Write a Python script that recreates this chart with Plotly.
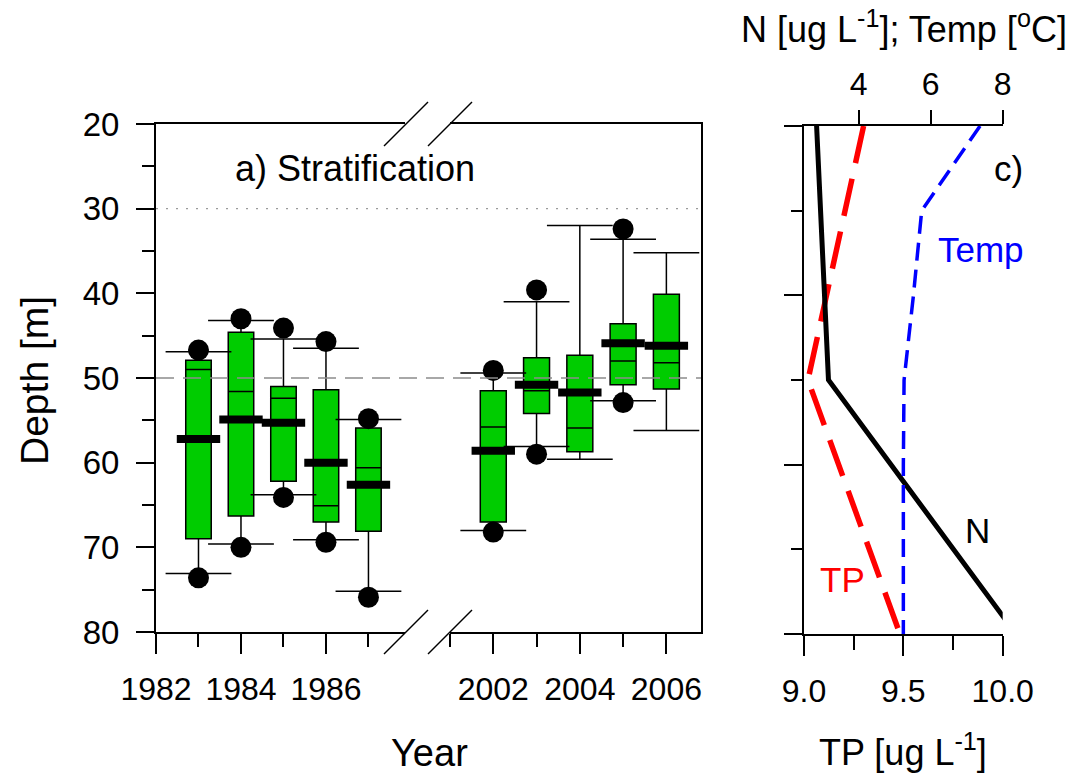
import plotly.graph_objects as go

W, H = 1072, 778
FONT = "Liberation Sans, Arial, sans-serif"

# ---------------- data: panel a) ----------------
years_early = [1983, 1984, 1985, 1986, 1987]
q1_early = [47.9, 44.6, 51.0, 51.4, 55.9]
median_early = [49.0, 51.6, 52.4, 65.1, 60.6]
q3_early = [69.0, 66.3, 62.2, 67.0, 68.1]
whisk_lo_early = [46.9, 43.2, 45.4, 46.5, 54.9]
whisk_hi_early = [73.1, 69.6, 63.8, 69.1, 75.2]
mean_early = [57.2, 54.9, 55.3, 60.0, 62.6]
out_top_early = [46.7, 43.0, 44.1, 45.7, 54.8]
out_bot_early = [73.6, 70.0, 64.1, 69.4, 75.9]

years_late = [2002, 2003, 2004, 2005, 2006]
q1_late = [51.5, 47.6, 47.3, 43.6, 40.1]
median_late = [55.8, 51.5, 55.9, 48.0, 48.2]
q3_late = [67.0, 54.2, 58.7, 50.8, 51.3]
whisk_lo_late = [49.4, 41.0, 32.0, 33.6, 35.2]
whisk_hi_late = [68.0, 58.1, 59.6, 52.7, 56.2]
mean_late = [58.6, 50.8, 51.7, 45.9, 46.2]
out_top_late = [49.1, 39.6, None, 32.4, None]
out_bot_late = [68.2, 59.0, None, 52.9, None]

ref_dotted_depth = 30
ref_dashed_depth = 50

# ---------------- data: panel c) ----------------
depth_N = [20, 50, 80]
N_vals = [2.83, 3.16, 8.37]
depth_TP = [20, 50, 80]
TP_vals = [9.30, 9.02, 9.483]
depth_T = [20, 30, 40, 50, 60, 70, 80]
T_vals = [7.37, 5.75, 5.52, 5.26, 5.24, 5.24, 5.24]

ticks_left_x = [1982, 1984, 1986]
ticks_right_x = [2002, 2004, 2006]


def px(x):
    return x / W


def py(y):
    return 1 - y / H


fig = go.Figure()

GREEN = "#00CC00"


def add_boxes(years, q1, med, q3, lo, hi, mean, otop, obot, xa, ya):
    fig.add_trace(go.Box(
        x=years, q1=q1, median=med, q3=q3, lowerfence=lo, upperfence=hi,
        width=0.6, whiskerwidth=0, boxpoints=False,
        fillcolor=GREEN, line=dict(color="black", width=1.5),
        xaxis=xa, yaxis=ya, showlegend=False, hoverinfo="skip"))
    # whisker caps
    fig.add_trace(go.Scatter(
        x=years + years, y=lo + hi, mode="markers",
        marker=dict(symbol="line-ew", size=47, color="black",
                    line=dict(color="black", width=1.5)),
        xaxis=xa, yaxis=ya, showlegend=False, hoverinfo="skip", cliponaxis=False))
    # mean (thick line)
    fig.add_trace(go.Scatter(
        x=years, y=mean, mode="markers",
        marker=dict(symbol="line-ew", size=31, color="black",
                    line=dict(color="black", width=8)),
        xaxis=xa, yaxis=ya, showlegend=False, hoverinfo="skip", cliponaxis=False))
    # outliers
    fig.add_trace(go.Scatter(
        x=years + years, y=otop + obot, mode="markers",
        marker=dict(symbol="circle", size=21, color="black"),
        xaxis=xa, yaxis=ya, showlegend=False, hoverinfo="skip", cliponaxis=False))


add_boxes(years_early, q1_early, median_early, q3_early, whisk_lo_early,
          whisk_hi_early, mean_early, out_top_early, out_bot_early, "x", "y")
add_boxes(years_late, q1_late, median_late, q3_late, whisk_lo_late,
          whisk_hi_late, mean_late, out_top_late, out_bot_late, "x2", "y2")

# panel c lines
fig.add_trace(go.Scatter(x=N_vals, y=depth_N, mode="lines",
                         line=dict(color="black", width=5),
                         xaxis="x4", yaxis="y3", showlegend=False, hoverinfo="skip"))
fig.add_trace(go.Scatter(x=TP_vals, y=depth_TP, mode="lines",
                         line=dict(color="#FF0000", width=5.5, dash="38px,16px"),
                         xaxis="x3", yaxis="y3", showlegend=False, hoverinfo="skip"))
fig.add_trace(go.Scatter(x=T_vals, y=depth_T, mode="lines",
                         line=dict(color="#0000FF", width=3.5, dash="18px,9px"),
                         xaxis="x4", yaxis="y3", showlegend=False, hoverinfo="skip"))

tickfont = dict(family=FONT, size=32, color="black")
common_axis = dict(showgrid=False, zeroline=False, showline=True, linecolor="black",
                   linewidth=2, ticks="outside", tickcolor="black", tickwidth=1.5,
                   tickfont=tickfont, automargin=False)

yd_left = [py(632), py(124)]
yd_right = [py(634), py(126)]

fig.update_layout(
    width=W, height=H, autosize=False,
    margin=dict(l=0, r=0, t=0, b=0, pad=0, autoexpand=False),
    paper_bgcolor="white", plot_bgcolor="white",
    hovermode=False, boxmode="overlay",
    font=dict(family=FONT, color="black"),
    xaxis=dict(common_axis, domain=[px(156), px(405)], range=[1982, 1987.86],
               anchor="y", mirror=True, tickmode="array", tickvals=ticks_left_x,
               ticklen=20, ticklabelstandoff=8,
               minor=dict(dtick=1, tick0=1982, ticklen=13, ticks="outside",
                          tickcolor="black", tickwidth=1.5, showgrid=False)),
    xaxis2=dict(common_axis, domain=[px(450), px(701)], range=[2001, 2006.8],
                anchor="y2", mirror=True, tickmode="array", tickvals=ticks_right_x,
                ticklen=20, ticklabelstandoff=8,
                minor=dict(dtick=1, tick0=2001, ticklen=13, ticks="outside",
                           tickcolor="black", tickwidth=1.5, showgrid=False)),
    yaxis=dict(common_axis, domain=yd_left, range=[80, 20], anchor="x",
               dtick=10, tick0=20, ticklen=18, ticklabelstandoff=10,
               tickfont=dict(family=FONT, size=33, color="black"),
               minor=dict(dtick=5, ticklen=12, ticks="outside", tickcolor="black",
                          tickwidth=1.5, showgrid=False)),
    yaxis2=dict(domain=yd_left, range=[80, 20], anchor="x2", side="right",
                showline=True, linecolor="black", linewidth=2, showgrid=False,
                zeroline=False, ticks="", showticklabels=False, automargin=False),
    xaxis3=dict(common_axis, domain=[px(804), px(1002.7)], range=[9, 10],
                anchor="y3", dtick=0.5, tick0=9, tickformat=".1f", ticklen=20,
                ticklabelstandoff=8,
                minor=dict(dtick=0.25, ticklen=14, ticks="outside", tickcolor="black",
                           tickwidth=1.5, showgrid=False)),
    xaxis4=dict(common_axis, domain=[px(804), px(1002.7)], range=[2.48, 8],
                anchor="y3", overlaying="x3", side="top", tickmode="array",
                tickvals=[4, 6, 8], ticklen=14, ticklabelstandoff=2),
    yaxis3=dict(common_axis, domain=yd_right, range=[80, 20], anchor="x3",
                dtick=20, tick0=20, ticklen=18, showticklabels=False,
                minor=dict(dtick=10, ticklen=11, ticks="outside", tickcolor="black",
                           tickwidth=1.5, showgrid=False)),
)

shapes = []
# reference lines across panel a
shapes.append(dict(type="line", xref="paper", yref="y", x0=px(156), x1=px(701),
                   y0=ref_dotted_depth, y1=ref_dotted_depth, layer="above",
                   line=dict(color="#9a9a9a", width=1.3, dash="2px,8px")))
shapes.append(dict(type="line", xref="paper", yref="y", x0=px(156), x1=px(701),
                   y0=ref_dashed_depth, y1=ref_dashed_depth, layer="above",
                   line=dict(color="#8c8c8c", width=1.5, dash="18px,9px")))
# axis-break slashes
for cx in (406, 450):
    for cy in (124, 632):
        shapes.append(dict(type="line", xref="paper", yref="paper",
                           x0=px(cx - 22), y0=py(cy + 22), x1=px(cx + 22), y1=py(cy - 22),
                           line=dict(color="black", width=1.5)))
fig.update_layout(shapes=shapes)

ann = []


def text(x, y, s, size, color="black", angle=0):
    ann.append(dict(x=px(x), y=py(y), xref="paper", yref="paper", text=s,
                    showarrow=False, textangle=angle, xanchor="center", yanchor="middle",
                    font=dict(family=FONT, size=size, color=color)))


text(34, 381, "Depth [m]", 39, angle=-90)
text(429, 753, "Year", 38)
text(903, 750, "TP [ug L<sup>-1</sup>]", 36)
text(904, 27, "N [ug L<sup>-1</sup>]; Temp [<sup>o</sup>C]", 36)
text(355, 168, "a) Stratification", 36)
text(1008, 169, "c)", 35)
text(981, 249, "Temp", 35, color="#0000FF")
text(977, 530, "N", 35)
text(842, 579, "TP", 35, color="#FF0000")
fig.update_layout(annotations=ann)

fig.write_html("out.html")
